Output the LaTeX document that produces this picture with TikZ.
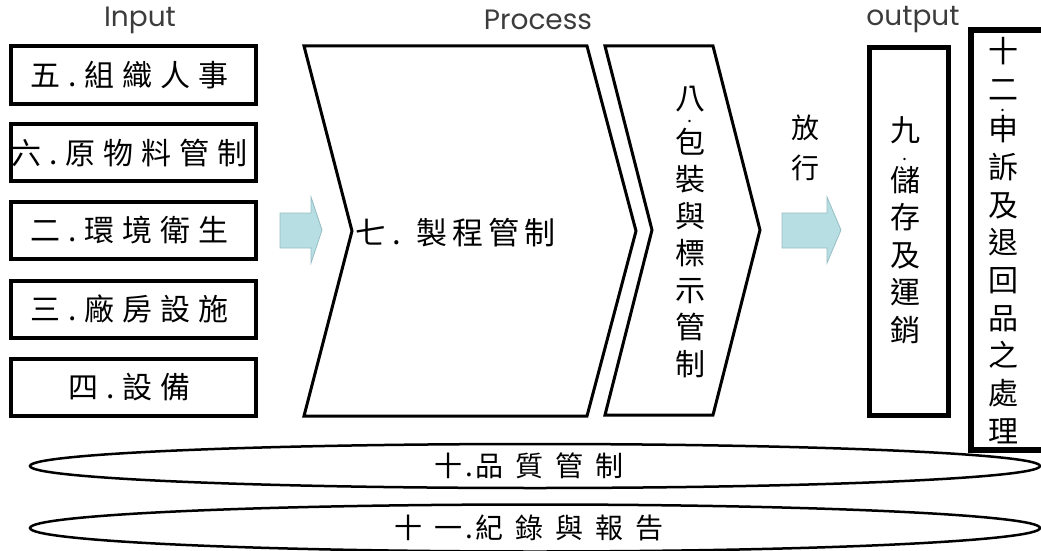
\documentclass[tikz,border=0pt]{standalone}
\usepackage{fontspec}
\usetikzlibrary{shapes.geometric}
\newfontfamily\cjk{Noto Sans CJK TC}
\newfontfamily\lat{Poppins}
\definecolor{arrowfill}{RGB}{183,222,226}
\definecolor{arrowline}{RGB}{150,190,196}
\definecolor{labelgray}{RGB}{60,60,60}
\ExplSyntaxOn
\NewDocumentCommand\spc{mm}{\tl_map_inline:nn {#2}{##1\hspace{#1}}\hspace{-#1}}
\ExplSyntaxOff
\newcommand\withdot[2]{\ooalign{#1\cr\hidewidth\smash{\raisebox{#2}{\fontsize{18}{18}\selectfont .}}\hidewidth\cr}}
\begin{document}
\begin{tikzpicture}[x=1pt,y=-1pt,
  inbox/.style={draw, line width=4pt, minimum width=245pt, minimum height=57pt, inner sep=0pt, font=\cjk\fontsize{30}{36}\selectfont},
  phase/.style={draw, line width=3pt, line join=miter},
  flow/.style={fill=arrowfill, draw=arrowline, line width=0.8pt},
  head/.style={font=\lat\fontsize{28}{30}\selectfont, text=labelgray, inner sep=0pt},
  vtext/.style={align=center, inner sep=0pt, anchor=north},
  band/.style={ellipse, draw, line width=2.5pt, minimum width=1010pt, inner sep=0pt, font=\cjk\fontsize{28}{30}\selectfont}]
\useasboundingbox (0,0) rectangle (1041,551);
\clip (0,0) rectangle (1041,551);

% headings
\node[head] (hin) at (140,20) {Input};
\node[head] (hproc) at (538,20) {Process};
\node[head] (hout) at (913,20) {output};

% input boxes
\node[inbox] (b5) at (133.5,75) {\spc{8pt}{五.組織人事}};
\node[inbox] (b6) at (133.5,152.5) {\spc{8pt}{六.原物料管制}};
\node[inbox] (b2) at (133.5,230) {\spc{8pt}{二.環境衛生}};
\node[inbox] (b3) at (133.5,309) {\spc{8pt}{三.廠房設施}};
\node[inbox] (b4) at (133.5,387) {\spc{8pt}{四.設備}};

% flow arrows
\draw[flow] (280,213) -- (311,213) -- (311,197) -- (322,230) -- (311,263) -- (311,248) -- (280,248) -- cycle;
\draw[flow] (782,213) -- (827,213) -- (827,197) -- (841,230) -- (827,263) -- (827,248) -- (782,248) -- cycle;

% process chevrons
\draw[phase] (304,46) -- (587,46) -- (636,231) -- (587,416) -- (304,416) -- (352,231) -- cycle;
\draw[phase] (605,46) -- (713,46) -- (760,230) -- (713,415) -- (605,415) -- (652,230) -- cycle;
\node[font=\cjk\fontsize{31}{36}\selectfont, inner sep=0pt] (p7) at (458,233) {\spc{6pt}{七.}\hspace{15pt}\spc{5pt}{製程管制}};
\node[vtext, font=\cjk\fontsize{30}{37}\selectfont] (p8) at (690,86) {\withdot{八}{-13pt}\\[7pt]包\\裝\\與\\標\\示\\管\\制};

% release label
\node[vtext, font=\cjk\fontsize{28}{40}\selectfont] (rel) at (805,115) {放\\行};

% output boxes
\node[draw, line width=5pt, minimum width=79pt, minimum height=368pt, inner sep=0pt] (o9) at (909,231.5) {};
\node[vtext, font=\cjk\fontsize{30}{37.5}\selectfont] (t9) at (905,116) {\withdot{九}{-19pt}\\[12.5pt]儲\\存\\及\\運\\銷};
\node[draw, line width=6pt, minimum width=200pt, minimum height=420pt, inner sep=0pt, anchor=north west] (o12) at (968,27) {};
\node[vtext, font=\cjk\fontsize{30}{37.7}\selectfont] (t12) at (1003,37) {十\\\withdot{二}{-11pt}\\[3pt]申\\訴\\及\\退\\回\\品\\之\\處\\理};

% bands
\node[band, minimum height=44pt] (q10) at (535,466) {十\hspace{3pt}.\hspace{3pt}\spc{12pt}{品質管制}};
\node[band, minimum height=47pt] (q11) at (535,528) {十\hspace{12pt}一\hspace{3pt}.\hspace{3pt}\spc{12pt}{紀錄與報告}};
\end{tikzpicture}
\end{document}
